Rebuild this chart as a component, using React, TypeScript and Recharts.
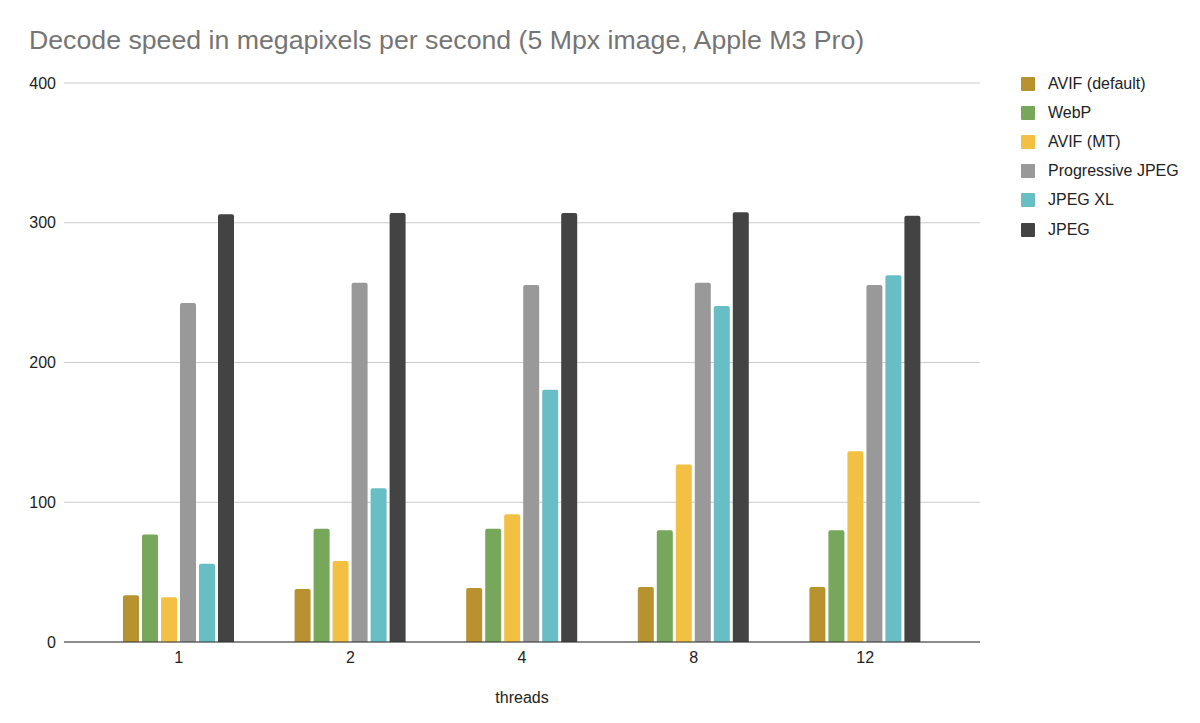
import { Bar, BarChart, CartesianGrid, XAxis, YAxis } from "recharts";

const threads = ["1", "2", "4", "8", "12"];
const avifDefault = [33.5, 38, 38.6, 39.4, 39.4];
const webp = [77, 81, 81, 80, 80];
const avifMT = [32, 58, 91.5, 127, 136.5];
const progressiveJpeg = [242.5, 257, 255.5, 257, 255.5];
const jpegXl = [56, 110, 180.5, 240.5, 262.5];
const jpeg = [306, 307, 307, 307.5, 305];
const yTicks = [0, 100, 200, 300, 400];

const series = [
  { key: "avifDefault", name: "AVIF (default)", color: "#b8922f" },
  { key: "webp", name: "WebP", color: "#77a75b" },
  { key: "avifMT", name: "AVIF (MT)", color: "#f2c043" },
  { key: "progressiveJpeg", name: "Progressive JPEG", color: "#999999" },
  { key: "jpegXl", name: "JPEG XL", color: "#68bec5" },
  { key: "jpeg", name: "JPEG", color: "#434343" },
];

const data = threads.map((t, i) => ({
  threads: t,
  avifDefault: avifDefault[i],
  webp: webp[i],
  avifMT: avifMT[i],
  progressiveJpeg: progressiveJpeg[i],
  jpegXl: jpegXl[i],
  jpeg: jpeg[i],
}));

const font = "'Liberation Sans', Arial, sans-serif";

export default function App() {
  return (
    <div style={{ position: "absolute", left: 0, top: 0, width: 1200, height: 723, background: "#fff" }}>
      <div
        style={{
          position: "absolute",
          left: 29,
          top: 25,
          fontFamily: font,
          fontSize: 26.7,
          color: "#757575",
          whiteSpace: "nowrap",
        }}
      >
        Decode speed in megapixels per second (5 Mpx image, Apple M3 Pro)
      </div>
      <div style={{ position: "absolute", left: 1021, top: 69, fontFamily: font, fontSize: 16, color: "#222" }}>
        {series.map((s) => (
          <div key={s.key} style={{ display: "flex", alignItems: "center", height: 29.2 }}>
            <span style={{ width: 14, height: 14, background: s.color, borderRadius: 1, marginRight: 13 }} />
            <span>{s.name}</span>
          </div>
        ))}
      </div>
      <BarChart
        width={1200}
        height={723}
        data={data}
        margin={{ top: 83, right: 220, bottom: 0, left: 0 }}
        barCategoryGap="18%"
        barGap={3}
        barSize={16}
      >
        <CartesianGrid vertical={false} stroke="#cccccc" />
        <XAxis
          dataKey="threads"
          height={81}
          padding={{ left: 29, right: 29 }}
          tickLine={false}
          axisLine={{ stroke: "#333" }}
          tick={{ fill: "#222", fontSize: 16, fontFamily: font }}
          tickMargin={4}
          label={{ value: "threads", position: "insideBottom", offset: 20, fill: "#222", fontSize: 16, fontFamily: font }}
        />
        <YAxis
          width={64}
          domain={[0, 400]}
          ticks={yTicks}
          tickLine={false}
          axisLine={false}
          tick={{ fill: "#222", fontSize: 16, fontFamily: font }}
          tickMargin={2}
        />
        {series.map((s) => (
          <Bar key={s.key} dataKey={s.key} name={s.name} fill={s.color} radius={[2, 2, 0, 0]} isAnimationActive={false} />
        ))}
      </BarChart>
    </div>
  );
}
